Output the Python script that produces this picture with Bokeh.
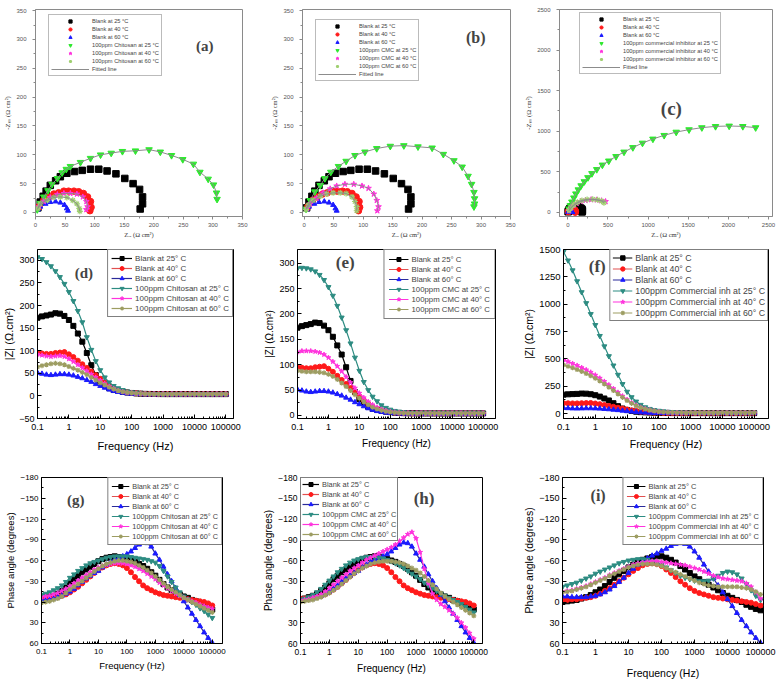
from bokeh.plotting import figure
from bokeh.layouts import column, row
from bokeh.models import Range1d, FixedTicker, CustomJSTickFormatter, Legend, LegendItem, Label
from bokeh.embed import file_html
from bokeh.resources import INLINE

SANS = "Liberation Sans"
SERIF = "Liberation Serif"

# ---------------- Nyquist data (Z_re, -Z_im) ----------------
NQ_B25_RE = [4, 8, 13, 18, 25, 34, 42, 53, 66, 79, 93, 107, 121, 136, 151, 165, 176, 181, 181, 177]
NQ_B25_IM = [8, 18, 28, 37, 47, 55, 62, 68, 71, 73, 75, 75, 72, 67, 59, 50, 40, 27, 15, 6]
NQ_B40_RE = [6, 14, 22, 31, 39, 48, 56, 65, 73, 81, 88, 93, 94, 92]
NQ_B40_IM = [10, 21, 27, 32, 34, 37, 37, 37, 36, 33, 27, 19, 9, 3]
NQ_B60_RE = [4, 8, 17, 25, 34, 42, 49, 53, 55]
NQ_B60_IM = [5, 10, 15, 18, 19, 17, 13, 7, 3]

NQ_CHI25_RE = [3, 8, 14, 21, 28, 37, 45, 52, 59, 76, 93, 110, 128, 147, 169, 192, 211, 230, 249, 267, 278, 292, 301, 306, 307]
NQ_CHI25_IM = [5, 16, 27, 38, 49, 59, 69, 75, 80, 87, 94, 100, 103, 106, 107, 109, 105, 99, 92, 84, 70, 58, 48, 34, 23]
NQ_CHI40_RE = [6, 14, 25, 37, 48, 59, 70, 80, 86, 88, 86]
NQ_CHI40_IM = [10, 19, 26, 31, 33, 33, 32, 27, 19, 10, 5]
NQ_CHI60_RE = [4, 8, 20, 31, 42, 53, 63, 70, 74, 75]
NQ_CHI60_IM = [7, 15, 21, 26, 27, 26, 21, 15, 7, 2]

NQ_CMC25_RE = [3, 10, 18, 27, 35, 45, 58, 71, 86, 103, 123, 146, 169, 193, 217, 236, 254, 268, 278, 284, 288, 289, 289, 288]
NQ_CMC25_IM = [6, 21, 36, 47, 59, 70, 80, 89, 99, 105, 111, 115, 116, 114, 112, 101, 90, 79, 63, 49, 35, 24, 15, 10]
NQ_CMC40_RE = [5, 10, 21, 32, 44, 55, 69, 84, 98, 109, 118, 123, 126, 124]
NQ_CMC40_IM = [7, 15, 25, 34, 41, 46, 49, 49, 46, 42, 32, 21, 10, 3]
NQ_CMC60_RE = [3, 7, 15, 27, 38, 49, 61, 71, 81, 86, 89, 89]
NQ_CMC60_IM = [5, 13, 21, 28, 32, 34, 34, 33, 27, 19, 10, 3]

NQ_COM25_RE = [15, 30, 50, 75, 100, 130, 165, 205, 250, 300, 360, 430, 510, 600, 700, 810, 930, 1060, 1200, 1350, 1510, 1670, 1840, 2010, 2180, 2340]
NQ_COM25_IM = [45, 85, 130, 180, 230, 280, 330, 380, 430, 480, 530, 585, 635, 690, 745, 800, 855, 905, 950, 990, 1020, 1045, 1060, 1065, 1060, 1045]
NQ_COM40_RE = [15, 40, 70, 110, 160, 220, 290, 360, 420, 470]
NQ_COM40_IM = [20, 55, 85, 112, 135, 150, 158, 155, 145, 135]
NQ_COM60_RE = [15, 40, 75, 120, 175, 240, 310, 370, 420, 450]
NQ_COM60_IM = [25, 60, 95, 125, 148, 160, 162, 155, 140, 120]

NQ_TICKS_SMALL = [0, 50, 100, 150, 200, 250, 300, 350]
NQ_TICKS_BIG = [0, 500, 1000, 1500, 2000, 2500]

# ---------------- Bode data ----------------
FREQ = [0.1, 0.139, 0.193, 0.268, 0.373, 0.518, 0.72,
        1, 1.39, 1.93, 2.68, 3.73, 5.18, 7.2,
        10, 13.9, 19.3, 26.8, 37.3, 51.8, 72,
        100, 139, 193, 268, 373, 518, 720,
        1000, 1390, 1930, 2680, 3730, 5180, 7200,
        10000, 13900, 19300, 26800, 37300, 51800, 72000,
        100000]
FREQ_TICKS = [0.1, 1, 10, 100, 1000, 10000, 100000]

# |Z| blanks
ZB25 = [173, 176, 178, 180, 183, 182, 177,
        168, 155, 138, 120, 95, 68, 46,
        32, 24, 17, 13, 11, 9, 7.5,
        6.5, 5.5, 5, 4.5, 4.3, 4.2, 4.1,
        4, 4, 4, 4, 4, 4, 4,
        4, 4, 4, 4, 4, 4, 4,
        4]
ZB40 = [95, 94, 93, 93, 95, 96, 97,
        92, 86, 78, 70, 62, 54, 46,
        38, 30, 23, 17, 13, 10, 8,
        6.5, 5.5, 5, 4.5, 4.2, 4, 4,
        4, 4, 4, 4, 4, 4, 4,
        4, 4, 4, 4, 4, 4, 4,
        4]
ZB60 = [51, 49, 47, 46, 47, 48, 48,
        47, 45, 42, 39, 35, 31, 26,
        22, 18, 14, 11, 8.5, 7, 5.5,
        4.8, 4.2, 3.8, 3.5, 3.5, 3.5, 3.5,
        3.5, 3.5, 3.5, 3.5, 3.5, 3.5, 3.5,
        3.5, 3.5, 3.5, 3.5, 3.5, 3.5, 3.5,
        3.5]
# |Z| Chitosan
ZCHI25 = [307, 303, 296, 287, 276, 263, 248,
          230, 210, 188, 163, 130, 102, 77,
          57, 41, 30, 22, 17, 13, 10,
          8, 6.5, 5.5, 5, 4.5, 4.3, 4.2,
          4, 4, 4, 4, 4, 4, 4,
          4, 4, 4, 4, 4, 4, 4,
          4]
ZCHI40 = [92, 90, 88, 87, 88, 89, 87,
          82, 76, 69, 62, 55, 48, 41,
          34, 27, 21, 16, 12, 9.5, 7.5,
          6.5, 5.5, 5, 4.5, 4.2, 4, 4,
          4, 4, 4, 4, 4, 4, 4,
          4, 4, 4, 4, 4, 4, 4,
          4]
ZCHI60 = [64, 67, 69, 71, 72, 71, 69,
          65, 61, 57, 52, 47, 41, 35,
          29, 24, 19, 15, 11.5, 9, 7.5,
          6.3, 5.5, 5, 4.5, 4.2, 4, 4,
          4, 4, 4, 4, 4, 4, 4,
          4, 4, 4, 4, 4, 4, 4,
          4]
# |Z| CMC
ZCMC25 = [290, 291, 290, 288, 284, 277, 267,
          253, 236, 216, 193, 168, 142, 114,
          88, 66, 50, 37, 28, 20, 15,
          11.5, 9, 7.5, 6.5, 5.5, 5, 4.6,
          4.3, 4.3, 4.3, 4.3, 4.3, 4.3, 4.3,
          4.3, 4.3, 4.3, 4.3, 4.3, 4.3, 4.3,
          4.3]
ZCMC40 = [125, 127, 127, 127, 126, 124, 120,
          114, 106, 97, 87, 76, 65, 54,
          44, 35, 27, 21, 16, 12, 9.5,
          7.5, 6.5, 5.5, 5, 4.6, 4.3, 4.3,
          4.3, 4.3, 4.3, 4.3, 4.3, 4.3, 4.3,
          4.3, 4.3, 4.3, 4.3, 4.3, 4.3, 4.3,
          4.3]
ZCMC60 = [88, 87, 86, 86, 86, 85, 84,
          81, 77, 71, 64, 57, 49, 41,
          34, 27, 21, 16, 12.5, 10, 8,
          6.5, 5.5, 5, 4.5, 4.2, 4, 4,
          4, 4, 4, 4, 4, 4, 4,
          4, 4, 4, 4, 4, 4, 4,
          4]
# |Z| commercial inhibitor
ZCOM25 = [1480, 1400, 1310, 1210, 1110, 1010, 910,
          810, 710, 615, 525, 440, 355, 270,
          200, 150, 110, 80, 58, 43, 33,
          26, 21, 17, 14, 12, 11, 10,
          9, 8.5, 8, 8, 8, 8, 8,
          8, 8, 8, 8, 8, 8, 8,
          8]
ZCOM40 = [490, 475, 458, 440, 420, 400, 378,
          352, 324, 294, 262, 228, 194, 160,
          128, 100, 76, 57, 43, 32, 24,
          18, 14, 11.5, 10, 9, 8.5, 8,
          8, 8, 8, 8, 8, 8, 8,
          8, 8, 8, 8, 8, 8, 8,
          8]
ZCOM60 = [445, 432, 418, 402, 385, 366, 345,
          322, 297, 270, 241, 210, 179, 148,
          119, 93, 71, 54, 41, 31, 23,
          17.5, 13.5, 11, 9.5, 8.7, 8.3, 8,
          8, 8, 8, 8, 8, 8, 8,
          8, 8, 8, 8, 8, 8, 8,
          8]

# Phase angle (degrees) blanks (panels g, h)
PB25 = [-4, -5, -7, -9, -12, -16, -21,
        -27, -33, -38, -43, -47, -51, -55,
        -59, -62, -64, -65, -66, -65, -64,
        -62, -60, -58, -55, -52, -48, -43,
        -38, -32, -26, -21, -17, -14, -11,
        -8, -6, -3, -1, 2, 5, 8,
        11]
PB40 = [-5, -5, -5, -6, -7, -9, -11,
        -14, -18, -22, -27, -32, -37, -42,
        -46, -50, -53, -55, -56, -55, -53,
        -49, -43, -36, -30, -24, -20, -17,
        -14, -12, -10, -9, -8, -7, -6,
        -5, -4, -3, -2, -1, 0, 2,
        5]
PB60 = [-3, -3, -4, -5, -7, -9, -12,
        -15, -19, -24, -29, -34, -38, -42,
        -45, -50, -54, -58, -61, -64, -66,
        -69, -73, -78, -83, -86, -85, -80,
        -70, -61, -51, -40, -30, -20, -10,
        -1, 8, 17, 26, 35, 44, 52,
        59]
PCHI25 = [-10, -12, -14, -17, -20, -24, -29,
          -35, -40, -45, -49, -53, -56, -58,
          -60, -62, -64, -65, -66, -66, -66,
          -66, -65, -64, -63, -62, -61, -59,
          -57, -52, -45, -37, -29, -21, -14,
          -8, -4, 0, 4, 9, 13, 18,
          23]
PCHI40 = [-7, -8, -9, -11, -13, -16, -19,
          -23, -27, -31, -35, -39, -43, -47,
          -50, -52, -54, -55, -56, -56, -56,
          -55, -53, -51, -48, -45, -41, -37,
          -33, -28, -24, -20, -16, -12, -9,
          -6, -3, -1, 1, 4, 6, 8,
          10]
PCHI60 = [1, 0, -1, -3, -5, -8, -13,
          -18, -22, -26, -30, -35, -39, -44,
          -48, -52, -55, -57, -59, -60, -60,
          -59, -58, -56, -53, -50, -46, -42,
          -37, -32, -27, -22, -18, -14, -10,
          -6, -3, 0, 3, 6, 9, 12,
          15]
PCMC25 = [-3, -5, -7, -10, -14, -19, -25,
          -31, -37, -43, -48, -53, -57, -60,
          -62, -64, -65, -65, -65, -64, -63,
          -61, -59, -56, -53, -49, -45, -41,
          -37, -33, -28, -24, -20, -16, -12,
          -9, -6, -3, 0, 3, 7, 11,
          15]
PCMC40 = [-2, -3, -4, -6, -8, -11, -15,
          -20, -25, -30, -35, -40, -45, -49,
          -53, -57, -61, -64, -67, -70, -73,
          -76, -79, -83, -88, -93, -98, -101,
          -92, -72, -48, -27, -12, -3, 3,
          7, 12, 17, 23, 30, 37, 45,
          53]
PCMC60 = [0, -1, -2, -3, -5, -7, -10,
          -13, -17, -21, -26, -31, -36, -41,
          -45, -49, -52, -55, -57, -58, -59,
          -59, -59, -58, -57, -55, -52, -49,
          -46, -42, -37, -31, -25, -19, -13,
          -8, -4, 0, 4, 8, 12, 16,
          20]
# Phase, panel i
PIB25 = [0, -1, -2, -3, -5, -7, -10,
         -14, -18, -23, -29, -35, -40, -45,
         -50, -54, -58, -61, -63, -65, -66,
         -66, -64, -61, -57, -52, -47, -42,
         -37, -33, -29, -25, -21, -17, -13,
         -9, -6, -3, 0, 4, 7, 10,
         12]
PIB40 = [-3, -3, -4, -4, -5, -6, -7,
         -9, -12, -16, -20, -25, -30, -35,
         -40, -45, -49, -53, -55, -56, -55,
         -52, -47, -42, -36, -30, -25, -20,
         -16, -13, -11, -9, -7, -6, -5,
         -4, -3, -2, -1, 0, 1, 3,
         5]
PIB60 = [-8, -8, -7, -7, -7, -7, -8,
         -9, -11, -14, -18, -23, -29, -35,
         -42, -48, -54, -59, -63, -67, -70,
         -74, -77, -81, -84, -85, -84, -80,
         -73, -64, -54, -44, -34, -24, -14,
         -4, 6, 16, 26, 35, 44, 52,
         59]
PCOM25 = [-22, -24, -26, -28, -31, -34, -37,
          -41, -44, -47, -50, -53, -56, -58,
          -60, -61, -62, -62, -61, -59, -57,
          -54, -50, -46, -42, -38, -35, -33,
          -31, -30, -30, -31, -34, -38, -42,
          -44, -43, -40, -34, -26, -17, -9,
          -3]
PCOM40 = [-15, -16, -17, -19, -21, -23, -26,
          -29, -32, -35, -39, -42, -45, -48,
          -51, -54, -56, -57, -58, -59, -59,
          -58, -57, -56, -55, -54, -53, -51,
          -49, -47, -44, -41, -38, -36, -34,
          -33, -32, -31, -30, -27, -22, -14,
          -5]
PCOM60 = [-14, -15, -16, -18, -20, -22, -25,
          -28, -31, -34, -38, -41, -44, -47,
          -50, -52, -54, -55, -55, -55, -54,
          -52, -49, -46, -43, -40, -37, -34,
          -31, -28, -26, -24, -23, -22, -22,
          -22, -22, -22, -21, -20, -18, -15,
          -11]

ZD_TICKS = [-50, 0, 50, 100, 150, 200, 250, 300]
ZE_TICKS = [0, 50, 100, 150, 200, 250, 300]
ZF_TICKS = [0, 250, 500, 750, 1000, 1250, 1500]
PH_TICKS = [-180, -150, -120, -90, -60, -30, 0, 30, 60]

# ---------------- colours ----------------
C_BLACK = "#000000"
C_RED = "#ff1a1a"
C_BLUE = "#1a1aff"
C_GREEN = "#2ee82e"
C_MAG = "#ff33dd"
C_LGREEN = "#9fcf70"
C_TEAL = "#2d8c82"
C_OLIVE = "#9d9d62"

FREQ_MINOR = [m * 10.0 ** e for e in range(-1, 5) for m in range(2, 10)]


def base_fig(w, h, l, r, t, b, xr, yr, xlog=False):
    kw = dict(width=w, height=h, x_range=xr, y_range=yr, output_backend="svg",
              toolbar_location=None, min_border_left=l, min_border_right=r,
              min_border_top=t, min_border_bottom=b)
    if xlog:
        kw["x_axis_type"] = "log"
    p = figure(**kw)
    p.grid.visible = False
    p.background_fill_color = "white"
    p.border_fill_color = "white"
    return p


def nyq_panel(w, h, l, r, t, b, xr, yr, xt, yt, xminor, yminor, series, tag, tag_xy, tag_fs,
              leg_loc):
    p = base_fig(w, h, l, r, t, b, Range1d(*xr), Range1d(*yr))
    p.outline_line_color = "#8a8a8a"
    for ax in (p.xaxis[0], p.yaxis[0]):
        ax.axis_line_color = "#8a8a8a"
        ax.major_tick_line_color = "#8a8a8a"
        ax.minor_tick_line_color = "#8a8a8a"
        ax.major_tick_out = 3
        ax.major_tick_in = 0
        ax.minor_tick_out = 2
        ax.minor_tick_in = 0
        ax.major_label_text_font = SANS
        ax.major_label_text_font_size = "6px"
        ax.major_label_text_color = "#555555"
        ax.axis_label_text_font = SERIF
        ax.axis_label_text_font_size = "6.5px"
        ax.axis_label_text_font_style = "normal"
        ax.axis_label_text_color = "#333333"
    p.xaxis[0].ticker = FixedTicker(ticks=xt, minor_ticks=xminor)
    p.yaxis[0].ticker = FixedTicker(ticks=yt, minor_ticks=yminor)
    p.xaxis[0].major_label_standoff = 3
    p.xaxis[0].axis_label_standoff = 1
    p.yaxis[0].major_label_standoff = 6
    p.yaxis[0].axis_label_standoff = 2
    p.xaxis[0].axis_label = "Zᵣₑ (Ω cm²)"
    p.yaxis[0].axis_label = "-Zᵢₘ (Ω cm²)"

    items = []
    fits = []
    for (xs, ys, col, mk, sz, lab, fit) in series:
        s = p.scatter(xs, ys, marker=mk, size=sz, fill_color=col, line_color=col,
                      line_width=1.2 if mk == "asterisk" else 1)
        items.append(LegendItem(label=lab, renderers=[s]))
        if fit:
            fits.append((xs, ys))
    fit_r = None
    for xs, ys in fits:
        fit_r = p.line(xs, ys, line_color="#8c8c8c", line_width=1)
    items.append(LegendItem(label="Fitted line", renderers=[fit_r]))
    leg = Legend(items=items, location=leg_loc, label_text_font=SANS,
                 label_text_font_size="5.7px", label_height=8, glyph_height=8,
                 glyph_width=38, spacing=0, padding=2, margin=0, label_standoff=3,
                 border_line_color="#777777", border_line_width=0.8,
                 background_fill_color="white", background_fill_alpha=1)
    p.add_layout(leg)
    p.add_layout(Label(x=tag_xy[0], y=tag_xy[1], text=tag, text_font=SERIF,
                       text_font_style="bold", text_font_size=tag_fs,
                       text_align="center", text_baseline="middle"))
    return p


def bode_panel(w, h, l, r, t, b, xr, yr, yt, yminor, ylabel, series, tag, tag_xy, tag_fs,
               tick_fs, title_fs, xls, leg_loc, leg_fs, leg_lh, leg_pad, leg_gw):
    p = base_fig(w, h, l, r, t, b, Range1d(*xr), Range1d(*yr), xlog=True)
    p.outline_line_color = "black"
    for ax in (p.xaxis[0], p.yaxis[0]):
        ax.axis_line_color = "black"
        ax.major_tick_line_color = "black"
        ax.minor_tick_line_color = "black"
        ax.major_tick_in = 4
        ax.major_tick_out = 0
        ax.minor_tick_in = 2
        ax.minor_tick_out = 0
        ax.major_label_text_font = SANS
        ax.major_label_text_font_size = tick_fs
        ax.major_label_text_color = "black"
        ax.axis_label_text_font = SANS
        ax.axis_label_text_font_size = title_fs
        ax.axis_label_text_font_style = "normal"
        ax.axis_label_text_color = "black"
    p.xaxis[0].ticker = FixedTicker(ticks=FREQ_TICKS, minor_ticks=FREQ_MINOR)
    p.xaxis[0].formatter = CustomJSTickFormatter(
        code="return tick < 1 ? tick.toFixed(1) : tick.toFixed(0);")
    p.yaxis[0].ticker = FixedTicker(ticks=yt, minor_ticks=yminor)
    p.xaxis[0].major_label_standoff = 5
    p.xaxis[0].axis_label_standoff = xls
    p.yaxis[0].major_label_standoff = 3
    p.yaxis[0].axis_label_standoff = 1
    p.xaxis[0].axis_label = "Frequency (Hz)"
    p.yaxis[0].axis_label = ylabel

    items = []
    for (ys, col, lcol, mk, lab) in series:
        ln = p.line(FREQ, ys, line_color=lcol, line_width=1.2)
        sc = p.scatter(FREQ, ys, marker=mk, size=5, fill_color=col, line_color=col,
                       line_width=1.2 if mk == "asterisk" else 1)
        items.append(LegendItem(label=lab, renderers=[ln, sc]))
    leg = Legend(items=items, location=leg_loc, label_text_font=SANS,
                 label_text_font_size=leg_fs, label_height=leg_lh, glyph_height=leg_lh,
                 glyph_width=leg_gw, spacing=0, padding=leg_pad, margin=0, label_standoff=3,
                 border_line_color="black", border_line_width=1,
                 background_fill_color="white", background_fill_alpha=1)
    p.add_layout(leg)
    p.add_layout(Label(x=tag_xy[0], y=tag_xy[1], text=tag, text_font=SERIF,
                       text_font_style="bold", text_font_size=tag_fs,
                       text_align="center", text_baseline="middle"))
    return p


def nyq_series(inh_name, inh25, inh40, inh60):
    return [
        (NQ_B25_RE, NQ_B25_IM, C_BLACK, "square", 6.5, "Blank at 25 °C", False),
        (NQ_B40_RE, NQ_B40_IM, C_RED, "circle", 6.5, "Blank at 40 °C", False),
        (NQ_B60_RE, NQ_B60_IM, C_BLUE, "triangle", 5, "Blank at 60 °C", False),
        (inh25[0], inh25[1], C_GREEN, "inverted_triangle", 6.5, "100ppm %s at 25 °C" % inh_name, True),
        (inh40[0], inh40[1], C_MAG, "star", 6, "100ppm %s at 40 °C" % inh_name, True),
        (inh60[0], inh60[1], C_LGREEN, "asterisk", 6, "100ppm %s at 60 °C" % inh_name, True),
    ]


def bode_series(inh_name, b25, b40, b60, i25, i40, i60):
    return [
        (b25, C_BLACK, C_BLACK, "square", "Blank at 25° C"),
        (b40, C_RED, "#e05050", "circle", "Blank at 40° C"),
        (b60, C_BLUE, "#2a2a9a", "triangle", "Blank at 60° C"),
        (i25, C_TEAL, C_TEAL, "inverted_triangle", "100ppm %s at 25° C" % inh_name),
        (i40, C_MAG, C_MAG, "star", "100ppm %s at 40° C" % inh_name),
        (i60, C_OLIVE, C_OLIVE, "asterisk", "100ppm %s at 60° C" % inh_name),
    ]


small_minor = [25, 75, 125, 175, 225, 275, 325]
big_minor = [250, 750, 1250, 1750, 2250]

pa = nyq_panel(260, 240, 35, 18, 5, 23, (0, 350), (-7, 352), NQ_TICKS_SMALL, NQ_TICKS_SMALL,
               small_minor, small_minor,
               nyq_series("Chitosan", (NQ_CHI25_RE, NQ_CHI25_IM), (NQ_CHI40_RE, NQ_CHI40_IM),
                          (NQ_CHI60_RE, NQ_CHI60_IM)),
               "(a)", (286, 288), "15px", (13, 140))
pb = nyq_panel(260, 240, 42, 10, 5, 23, (-3, 350), (-7, 352), NQ_TICKS_SMALL, NQ_TICKS_SMALL,
               small_minor, small_minor,
               nyq_series("CMC", (NQ_CMC25_RE, NQ_CMC25_IM), (NQ_CMC40_RE, NQ_CMC40_IM),
                          (NQ_CMC60_RE, NQ_CMC60_IM)),
               "(b)", (291, 304), "16px", (13, 135))
pc = nyq_panel(261, 240, 39, 9, 9, 23, (-104, 2550), (-50, 2500), NQ_TICKS_BIG, NQ_TICKS_BIG,
               big_minor, big_minor,
               nyq_series("commercial inhibitor", (NQ_COM25_RE, NQ_COM25_IM),
                          (NQ_COM40_RE, NQ_COM40_IM), (NQ_COM60_RE, NQ_COM60_IM)),
               "(c)", (1290, 1283), "19px", (20, 142))

ZLAB = "|Z| (Ω.cm²)"
PLAB = "Phase angle (degrees)"
zd_minor = [-25, 25, 75, 125, 175, 225, 275]
zf_minor = [125, 375, 625, 875, 1125, 1375]
ph_minor = [-165, -135, -105, -75, -45, -15, 15, 45]

pd = bode_panel(260, 225, 35, 27, 9, 47, (0.1, 1.76e5), (-50, 324), ZD_TICKS, zd_minor, ZLAB,
                bode_series("Chitosan", ZB25, ZB40, ZB60, ZCHI25, ZCHI40, ZCHI60),
                "(d)", (3.0, 271), "15px", "9px", "11px", 7, "top_right", "8px", 10, 3, 21)
pe = bode_panel(260, 225, 37, 25, 9, 47, (0.1, 2.51e5), (-6, 327), ZE_TICKS, zd_minor, ZLAB,
                bode_series("CMC", ZB25, ZB40, ZB60, ZCMC25, ZCMC40, ZCMC60),
                "(e)", (3.5, 301), "17px", "9px", "10px", 5, "top_right", "7.8px", 10, 4, 20)
pf = bode_panel(261, 225, 38, 13, 7, 38, (0.1, 2.82e5), (-45, 1500), ZF_TICKS, zf_minor, ZLAB,
                bode_series("Commercial inh", ZB25, ZB40, ZB60, ZCOM25, ZCOM40, ZCOM60),
                "(f)", (1.15, 1345), "17px", "9.5px", "10.5px", 5, "top_right", "8.8px", 11, 2, 20)
pg = bode_panel(260, 233, 41, 38, 8, 55, (0.1, 2.29e5), (60, -180), PH_TICKS, ph_minor, PLAB,
                bode_series("Chitosan", PB25, PB40, PB60, PCHI25, PCHI40, PCHI60),
                "(g)", (1.6, -147), "15px", "8px", "9.5px", 3, "top_right", "7.3px", 10, 3, 18)
ph = bode_panel(260, 233, 36, 38, 5, 50, (0.1, 2.0e5), (60, -180), PH_TICKS, ph_minor, PLAB,
                bode_series("CMC", PB25, PB40, PB60, PCMC25, PCMC40, PCMC60),
                "(h)", (1900, -149), "17px", "8.5px", "10px", 5, "top_left", "7.4px", 10, 1, 17)
pi = bode_panel(261, 233, 40, 18, 12, 40, (0.1, 1.23e5), (60, -180), PH_TICKS, ph_minor, PLAB,
                bode_series("Commercial inh", PIB25, PIB40, PIB60, PCOM25, PCOM40, PCOM60),
                "(i)", (1.2, -154), "16px", "9px", "10.5px", 9, "top_right", "7.5px", 10, 3, 19)

layout = column(row(pa, pb, pc, spacing=0), row(pd, pe, pf, spacing=0),
                row(pg, ph, pi, spacing=0), spacing=0)

open("out.html", "w").write(file_html(layout, INLINE))
